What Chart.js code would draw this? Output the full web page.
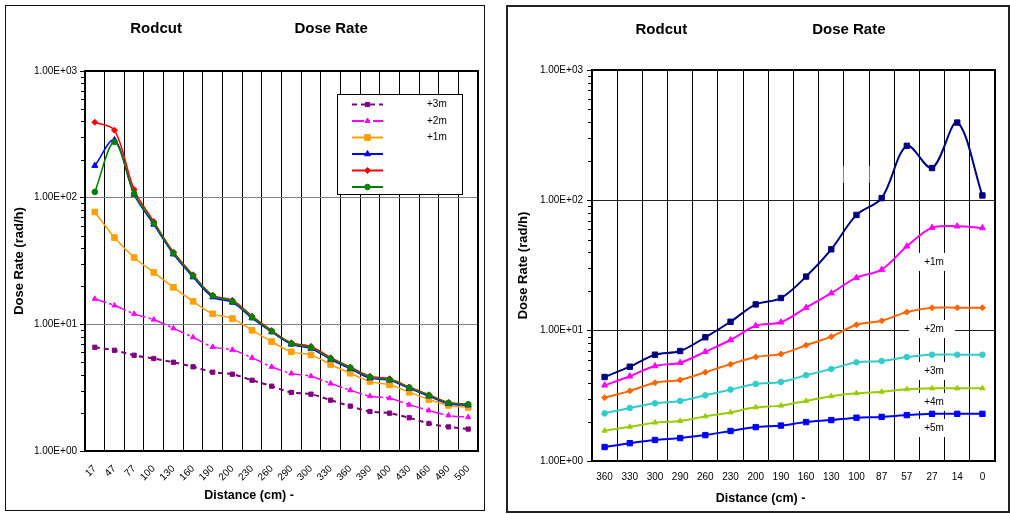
<!DOCTYPE html>
<html><head><meta charset="utf-8">
<script src="https://cdn.jsdelivr.net/npm/chart.js@4.4.1/dist/chart.umd.min.js"></script>
<style>
html,body{margin:0;padding:0;background:#fff;width:1010px;height:514px;overflow:hidden;}
.box{position:absolute;background:#fff;}
#boxL{left:5px;top:5px;border:1px solid #111;width:478px;height:504px;}
#boxR{left:506px;top:5px;border:2px solid #222;width:500px;height:504px;}
canvas{display:block;}
</style></head><body>
<div class="box" id="boxL"><canvas id="cL" width="478" height="504"></canvas></div>
<div class="box" id="boxR"><canvas id="cR" width="500" height="504"></canvas></div>
<script>
// ---------- data: left chart ----------
const leftCategories = ['17','47','77','100','130','160','190','200','230','260','290','300','330','360','390','400','430','460','490','500'];
const left3m = [6.59, 6.24, 5.70, 5.37, 5.02, 4.62, 4.19, 4.04, 3.62, 3.25, 2.90, 2.81, 2.52, 2.26, 2.05, 1.99, 1.83, 1.65, 1.55, 1.49];
const left2m = [15.9, 14.1, 12.1, 10.9, 9.30, 7.90, 6.64, 6.29, 5.44, 4.62, 4.09, 3.90, 3.41, 3.02, 2.71, 2.61, 2.32, 2.09, 1.91, 1.85];
const left1m = [77.1, 48.4, 33.7, 25.7, 19.6, 15.2, 12.1, 11.1, 8.97, 7.31, 6.06, 5.74, 4.82, 4.11, 3.54, 3.33, 2.91, 2.55, 2.29, 2.21];
const leftBlue = [179, 285, 106, 61.5, 35.8, 23.6, 16.4, 14.9, 11.2, 8.70, 6.95, 6.45, 5.28, 4.45, 3.76, 3.62, 3.12, 2.71, 2.36, 2.30];
const leftRed = [394, 341, 116, 64.7, 37.2, 24.6, 17.0, 15.5, 11.6, 8.95, 7.15, 6.70, 5.45, 4.60, 3.90, 3.72, 3.20, 2.78, 2.42, 2.35];
const leftGreen = [111, 275, 108, 62.9, 36.5, 24.2, 16.8, 15.2, 11.4, 8.81, 7.05, 6.55, 5.37, 4.54, 3.83, 3.67, 3.17, 2.75, 2.40, 2.34];
const leftLabels = ['+3m', '+2m', '+1m', '', '', ''];

// ---------- data: right chart ----------
const rightCategories = ['360','330','300','290','260','230','200','190','160','130','100','87','57','27','14','0'];
const rightTop = [4.41, 5.29, 6.54, 6.98, 8.90, 11.7, 15.9, 17.8, 26.0, 42.1, 77.3, 104, 262, 177, 395, 109];
const right1m = [3.81, 4.47, 5.36, 5.68, 6.90, 8.48, 10.9, 11.6, 15.0, 19.4, 25.5, 29.4, 44.4, 61.7, 63.3, 61.4];
const right2m = [3.06, 3.45, 3.99, 4.19, 4.80, 5.52, 6.28, 6.62, 7.72, 9.00, 11.1, 11.9, 13.9, 15.0, 15.0, 15.0];
const right3m = [2.32, 2.55, 2.77, 2.89, 3.19, 3.53, 3.90, 4.04, 4.55, 5.08, 5.72, 5.85, 6.28, 6.54, 6.54, 6.54];
const right4m = [1.71, 1.83, 1.97, 2.03, 2.20, 2.36, 2.58, 2.66, 2.89, 3.14, 3.31, 3.40, 3.55, 3.61, 3.61, 3.61];
const right5m = [1.28, 1.37, 1.45, 1.50, 1.58, 1.70, 1.82, 1.87, 1.99, 2.06, 2.15, 2.18, 2.25, 2.30, 2.30, 2.30];
const rightLabelTexts = ['', '+1m', '+2m', '+3m', '+4m', '+5m'];
const rightLabelCategories = ['100', '27', '27', '27', '27', '27'];
const rightLabelValues = [158, 33.7, 10.3, 4.91, 2.84, 1.79];

const titleText = 'Rodcut' + ' '.repeat(27) + 'Dose Rate';
const titleTextR = 'Rodcut' + ' '.repeat(30) + 'Dose Rate';
const xTitle = 'Distance (cm) -';
const yTitle = 'Dose Rate (rad/h)';

// ---------- helpers ----------
const FONT = "'Liberation Sans', Arial, Helvetica, sans-serif";
Chart.defaults.font.family = FONT;
Chart.defaults.color = '#000';

function isDecade(v){ const l = Math.log10(v); return Math.abs(l - Math.round(l)) < 1e-6; }
function sciLabel(v){ const e = Math.round(Math.log10(v)); return '1.00E' + (e < 0 ? '-' : '+') + String(Math.abs(e)).padStart(2, '0'); }

function drawMarker(ctx, style, x, y, r, color){
  ctx.fillStyle = color; ctx.strokeStyle = color; ctx.lineWidth = 1;
  ctx.beginPath();
  if (style === 'rect'){ const s = r * Math.SQRT1_2; ctx.rect(x - s, y - s, 2 * s, 2 * s); }
  else if (style === 'rectRot'){ ctx.moveTo(x, y - r); ctx.lineTo(x + r, y); ctx.lineTo(x, y + r); ctx.lineTo(x - r, y); ctx.closePath(); }
  else if (style === 'triangle'){
    for (let k = 0; k < 3; k++){ const a = k * 2 * Math.PI / 3; const px = x + Math.sin(a) * r, py = y - Math.cos(a) * r; if (k) ctx.lineTo(px, py); else ctx.moveTo(px, py); }
    ctx.closePath();
  } else { ctx.arc(x, y, r, 0, 2 * Math.PI); }
  ctx.fill(); ctx.stroke();
}

const framePlugin = {
  id: 'frame',
  afterDraw(chart){
    const a = chart.chartArea, ctx = chart.ctx;
    ctx.save(); ctx.strokeStyle = '#000'; ctx.lineWidth = 2;
    ctx.strokeRect(a.left, a.top, a.right - a.left, a.bottom - a.top);
    ctx.restore();
  }
};

const minorTickPlugin = {
  id: 'minorTicks',
  afterDraw(chart){
    const s = chart.scales.y, ctx = chart.ctx;
    ctx.save(); ctx.strokeStyle = '#000'; ctx.lineWidth = 1;
    s.ticks.forEach(t => {
      if (isDecade(t.value)) return;
      const y = Math.round(s.getPixelForValue(t.value)) + 0.5;
      ctx.beginPath(); ctx.moveTo(s.right - 4, y); ctx.lineTo(s.right, y); ctx.stroke();
    });
    ctx.restore();
  }
};

const boxLegendPlugin = {
  id: 'boxLegend',
  afterDatasetsDraw(chart, args, o){
    if (!o || !o.display) return;
    const ctx = chart.ctx;
    ctx.save();
    ctx.fillStyle = '#fff'; ctx.fillRect(o.x, o.y, o.w, o.h);
    ctx.strokeStyle = '#000'; ctx.lineWidth = 1; ctx.strokeRect(o.x + 0.5, o.y + 0.5, o.w, o.h);
    chart.data.datasets.forEach((ds, i) => {
      const y = o.rowStart + i * o.rowGap;
      ctx.save();
      ctx.strokeStyle = ds.borderColor; ctx.lineWidth = 2; ctx.setLineDash(ds.borderDash || []);
      ctx.beginPath(); ctx.moveTo(o.lineX1, y); ctx.lineTo(o.lineX2, y); ctx.stroke();
      ctx.setLineDash([]);
      drawMarker(ctx, ds.pointStyle, (o.lineX1 + o.lineX2) / 2, y, ds.pointRadius, ds.borderColor);
      ctx.restore();
      if (ds.label){
        ctx.fillStyle = '#000'; ctx.font = '10px ' + FONT; ctx.textAlign = 'left'; ctx.textBaseline = 'middle';
        ctx.fillText(ds.label, o.textX, y);
      }
    });
    ctx.restore();
  }
};

const seriesLabelPlugin = {
  id: 'seriesLabels',
  beforeDatasetsDraw(chart, args, o){
    if (!o || !o.texts) return;
    const ctx = chart.ctx, xs = chart.scales.x, ys = chart.scales.y;
    ctx.save();
    o.texts.forEach((t, i) => {
      const x = xs.getPixelForValue(xs.getLabels().indexOf(o.categories[i]));
      const y = ys.getPixelForValue(o.values[i]);
      const w = t ? o.boxW : o.blankW, h = t ? o.boxH : o.blankH;
      ctx.fillStyle = '#fff'; ctx.fillRect(x - w / 2, y - h / 2, w, h);
      if (t){
        ctx.fillStyle = '#000'; ctx.font = '10px ' + FONT; ctx.textAlign = 'center'; ctx.textBaseline = 'middle';
        ctx.fillText(t, x + 2, y);
      }
    });
    ctx.restore();
  }
};

function yScale(width, titlePad, labelPad, gridColor){
  return {
    type: 'logarithmic', min: 1, max: 1000,
    afterBuildTicks(s){
      const t = [];
      for (let e = 0; e < 3; e++) for (let m = 1; m < 10; m++) t.push({value: m * Math.pow(10, e)});
      t.push({value: 1000});
      s.ticks = t;
    },
    afterFit(s){ s.width = width; s.paddingTop = 0; s.paddingBottom = 0; },
    border: {display: false},
    grid: {
      color: c => (c.tick && isDecade(c.tick.value)) ? gridColor : 'rgba(0,0,0,0)',
      tickColor: c => (c.tick && isDecade(c.tick.value)) ? '#000' : 'rgba(0,0,0,0)',
      lineWidth: 1, drawTicks: true, tickLength: 5
    },
    ticks: {autoSkip: false, padding: labelPad, font: {size: 10}, color: '#000', callback: v => isDecade(v) ? sciLabel(v) : ''},
    title: {display: true, text: yTitle, color: '#000', font: {size: 13, weight: 'bold'}, padding: {top: titlePad, bottom: 0}}
  };
}

function xScale(height, rotate, pad){
  return {
    type: 'category', offset: true,
    afterFit(s){ s.height = height; s.paddingLeft = 0; s.paddingRight = 0; },
    border: {display: false},
    grid: {offset: true, color: '#000', lineWidth: 1, drawTicks: false},
    ticks: {autoSkip: false, maxRotation: rotate, minRotation: rotate, padding: pad, font: {size: 10}, color: '#000'}
  };
}

// later series drawn on top (as in the spreadsheet): lower "order" is drawn last
function ds(label, data, color, style, radius, width, dash, order){
  return {label, data, borderColor: color, backgroundColor: color, pointBackgroundColor: color, pointBorderColor: color,
    pointStyle: style, pointRadius: radius, pointBorderWidth: 1, borderWidth: width, borderDash: dash || [],
    tension: 0.33, fill: false, order: order};
}

// ---------- left chart ----------
new Chart(document.getElementById('cL'), {
  type: 'line',
  data: {
    labels: leftCategories,
    datasets: [
      ds(leftLabels[0], left3m, '#800080', 'rect', 3, 2, [5, 4], 5),
      ds(leftLabels[1], left2m, '#FF00FF', 'triangle', 3, 1.5, [12, 3, 3, 3], 4),
      ds(leftLabels[2], left1m, '#FFA000', 'rect', 4, 1.5, null, 3),
      ds(leftLabels[3], leftBlue, '#0000FF', 'triangle', 3.5, 1.5, null, 2),
      ds(leftLabels[4], leftRed, '#FF0000', 'rectRot', 3, 1.5, null, 1),
      ds(leftLabels[5], leftGreen, '#008000', 'circle', 2.8, 1.5, null, 0)
    ]
  },
  options: {
    responsive: false, animation: false,
    layout: {padding: {left: 14, right: 6, top: 0, bottom: 0}},
    scales: {x: xScale(30, 45, 12), y: yScale(65, -8.3, 3, '#808080')},
    plugins: {
      legend: {display: false}, tooltip: {enabled: false},
      title: {display: true, text: titleText, color: '#000', font: {size: 15, weight: 'bold'}, padding: {top: 14, bottom: 33}},
      subtitle: {display: true, position: 'bottom', text: xTitle, color: '#000', font: {size: 12.5, weight: 'bold'}, padding: {top: 7, bottom: 7}},
      boxLegend: {display: true, x: 331, y: 88, w: 125, h: 100, rowStart: 98.5, rowGap: 16.5, lineX1: 346, lineX2: 377, textX: 421}
    }
  },
  plugins: [framePlugin, minorTickPlugin, boxLegendPlugin]
});

// ---------- right chart ----------
new Chart(document.getElementById('cR'), {
  type: 'line',
  data: {
    labels: rightCategories,
    datasets: [
      ds('', rightTop, '#000080', 'rect', 3.8, 2, null, 5),
      ds('+1m', right1m, '#FF00FF', 'triangle', 3.5, 2, null, 4),
      ds('+2m', right2m, '#FF6600', 'rectRot', 3, 2, null, 3),
      ds('+3m', right3m, '#33CCCC', 'circle', 2.8, 2, null, 2),
      ds('+4m', right4m, '#99CC00', 'triangle', 3, 2, null, 1),
      ds('+5m', right5m, '#0000FF', 'rect', 3.8, 2, null, 0)
    ]
  },
  options: {
    responsive: false, animation: false,
    layout: {padding: {left: 18, right: 13, top: 0, bottom: 0}},
    scales: {x: xScale(24, 0, 10), y: yScale(66, -10.8, 4, '#202020')},
    plugins: {
      legend: {display: false}, tooltip: {enabled: false},
      title: {display: true, text: titleTextR, color: '#000', font: {size: 15, weight: 'bold'}, padding: {top: 14, bottom: 31}},
      subtitle: {display: true, position: 'bottom', text: xTitle, color: '#000', font: {size: 12.5, weight: 'bold'}, padding: {top: 6, bottom: 5}},
      seriesLabels: {texts: rightLabelTexts, categories: rightLabelCategories, values: rightLabelValues, boxW: 46, boxH: 18, blankW: 26, blankH: 17}
    }
  },
  plugins: [framePlugin, minorTickPlugin, seriesLabelPlugin]
});
</script>
</body></html>
